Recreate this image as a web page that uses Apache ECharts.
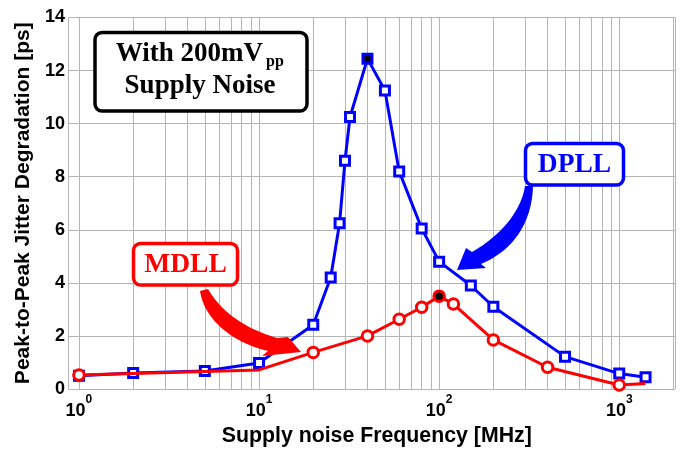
<!DOCTYPE html>
<html>
<head>
<meta charset="utf-8">
<script src="https://cdn.jsdelivr.net/npm/echarts@6/dist/echarts.min.js"></script>
<style>
  html, body { margin: 0; padding: 0; background: #fff; }
  #chart { width: 680px; height: 452px; }
</style>
</head>
<body>
<div id="chart"></div>
<script>
// Supply-noise frequency sweep (MHz) and measured peak-to-peak jitter degradation (ps)
const freqDPLL   = [1, 2, 5, 10, 20, 25, 28, 30, 32, 40, 50, 60, 80, 100, 150, 200, 500, 1000, 1400];
const jitterDPLL = [0.5, 0.6, 0.68, 0.98, 2.42, 4.2, 6.25, 8.6, 10.25, 12.45, 11.25, 8.2, 6.05, 4.8, 3.9, 3.1, 1.22, 0.58, 0.44];
const freqMDLL   = [1, 10, 20, 40, 60, 80, 100, 120, 200, 400, 1000, 1400];
const jitterMDLL = [0.53, 0.72, 1.38, 2.0, 2.63, 3.08, 3.5, 3.2, 1.85, 0.82, 0.15, 0.21];
// points plotted without a marker, and the highlighted worst-case points
const mdllNoMarker = [10, 1400];
const dpllPeakFreq = 40;
const mdllPeakFreq = 100;
// axis ranges / ticks
const xRange = [0.875, 2040];
const yTicks = [0, 2, 4, 6, 8, 10, 12, 14];
const decades = [1, 10, 100, 1000];

const BLUE = '#0000ff';
const RED = '#ff0000';
const SANS = '"Liberation Sans", Arial, sans-serif';
const SERIF = '"Liberation Serif", "Times New Roman", serif';

// minor log grid lines (2..9 within each decade)
const minorLines = [];
decades.forEach(d => {
  for (let m = 2; m <= 9; m++) {
    const v = d * m;
    if (v > xRange[0] && v < xRange[1]) minorLines.push({ xAxis: v });
  }
});

const dpllData = freqDPLL.map((f, i) => {
  const item = { value: [f, jitterDPLL[i]] };
  if (f === dpllPeakFreq) item.itemStyle = { color: '#000', borderColor: BLUE };
  return item;
});
const mdllData = freqMDLL.map((f, i) => {
  const item = { value: [f, jitterMDLL[i]] };
  if (mdllNoMarker.includes(f)) item.symbol = 'none';
  if (f === mdllPeakFreq) item.itemStyle = { color: '#000', borderColor: RED };
  return item;
});

// tapered curved arrow: inner edge bezier, arrow head, outer edge bezier back
function bez(p0, p1, p2, p3, n) {
  const pts = [];
  for (let i = 0; i <= n; i++) {
    const t = i / n, u = 1 - t;
    pts.push([
      u*u*u*p0[0] + 3*u*u*t*p1[0] + 3*u*t*t*p2[0] + t*t*t*p3[0],
      u*u*u*p0[1] + 3*u*u*t*p1[1] + 3*u*t*t*p2[1] + t*t*t*p3[1]
    ]);
  }
  return pts;
}
function arrowPoints(inner, head, outer) {
  return bez(...inner, 24).concat(head, bez(...outer, 24));
}

const blueArrow = arrowPoints(
  [[525, 186], [521, 212], [500, 236], [472, 252]],
  [[466, 248], [457, 270], [486, 268]],
  [[481, 264], [512, 251], [532, 224], [533, 186]]
);
const redArrow = arrowPoints(
  [[208, 289], [221, 312], [246, 329], [277, 338]],
  [[288, 337], [301, 352], [262, 356]],
  [[268, 351], [230, 342], [204, 318], [200, 291]]
);

function labelBox(x, y, w, h, color) {
  return {
    type: 'rect', shape: { x: x, y: y, width: w, height: h, r: 7 },
    style: { fill: '#fff', stroke: color, lineWidth: 3.5 }, z: 100
  };
}
function boxText(x, y, text, size, color, align) {
  return {
    type: 'text', x: x, y: y, z: 101,
    style: {
      text: text, fill: color, font: 'bold ' + size + 'px ' + SERIF,
      align: align || 'center', verticalAlign: 'middle',
      textAlign: align || 'center', textVerticalAlign: 'middle'
    }
  };
}

const chart = echarts.init(document.getElementById('chart'), null, { renderer: 'canvas' });

chart.setOption({
  animation: false,
  backgroundColor: '#fff',
  grid: { left: 68.5, right: 5, top: 17.5, bottom: 62.7, containLabel: false },
  xAxis: {
    type: 'log',
    logBase: 10,
    min: xRange[0],
    max: xRange[1],
    name: 'Supply noise Frequency [MHz]',
    nameLocation: 'middle',
    nameGap: 37,
    nameTextStyle: { fontFamily: SANS, fontWeight: 'bold', fontSize: 21.3, color: '#000', padding: [0, 0, 0, 10] },
    axisLine: { show: false },
    axisTick: { show: false },
    splitLine: { show: true, lineStyle: { color: '#b4b4b4', width: 1 } },
    axisLabel: {
      margin: 5,
      showMinLabel: true,
      showMaxLabel: true,
      formatter: function (v) {
        const k = Math.round(Math.log10(v));
        if (Math.abs(v - Math.pow(10, k)) > 1e-6 * v) return '';
        return '{b|10}{s|' + k + '}';
      },
      rich: {
        b: { fontFamily: SANS, fontWeight: 'bold', fontSize: 18, color: '#000', lineHeight: 20, padding: [8, 0, 0, 0], verticalAlign: 'top' },
        s: { fontFamily: SANS, fontWeight: 'bold', fontSize: 12, color: '#000', lineHeight: 13, verticalAlign: 'top' }
      }
    }
  },
  yAxis: {
    type: 'value',
    min: yTicks[0],
    max: yTicks[yTicks.length - 1],
    interval: yTicks[1] - yTicks[0],
    name: 'Peak-to-Peak Jitter Degradation [ps]',
    nameLocation: 'middle',
    nameGap: 35,
    nameTextStyle: { fontFamily: SANS, fontWeight: 'bold', fontSize: 21, color: '#000' },
    axisLine: { show: false },
    axisTick: { show: false },
    splitLine: { show: true, lineStyle: { color: '#b4b4b4', width: 1 } },
    axisLabel: { margin: 3.5, fontFamily: SANS, fontWeight: 'bold', fontSize: 18, color: '#000' }
  },
  series: [
    {
      name: 'DPLL',
      type: 'line',
      data: dpllData,
      symbol: 'rect',
      symbolSize: 9,
      showAllSymbol: true,
      lineStyle: { color: BLUE, width: 3 },
      itemStyle: { color: '#fff', borderColor: BLUE, borderWidth: 3 },
      z: 3,
      markLine: {
        silent: true,
        z: 1,
        symbol: ['none', 'none'],
        label: { show: false },
        lineStyle: { color: '#b4b4b4', width: 1, type: 'solid' },
        emphasis: { disabled: true },
        data: minorLines
      }
    },
    {
      name: 'MDLL',
      type: 'line',
      data: mdllData,
      symbol: 'circle',
      symbolSize: 10.5,
      showAllSymbol: true,
      lineStyle: { color: RED, width: 3 },
      itemStyle: { color: '#fff', borderColor: RED, borderWidth: 3 },
      z: 4
    }
  ],
  graphic: [
    // condition box
    labelBox(95, 32.5, 212, 78.5, '#000'),
    boxText(263, 54, 'With 200mV', 27, '#000', 'right'),
    boxText(266, 62, 'pp', 16, '#000', 'left'),
    boxText(200, 86, 'Supply Noise', 27, '#000'),
    // DPLL callout
    { type: 'polygon', shape: { points: blueArrow }, style: { fill: BLUE }, z: 99 },
    labelBox(525.5, 143.5, 98, 41.5, BLUE),
    boxText(574.5, 164.5, 'DPLL', 27.5, BLUE),
    // MDLL callout
    { type: 'polygon', shape: { points: redArrow }, style: { fill: RED }, z: 99 },
    labelBox(133.5, 243.5, 104, 41.5, RED),
    boxText(185.5, 264.5, 'MDLL', 27.5, RED)
  ]
});
</script>
</body>
</html>
